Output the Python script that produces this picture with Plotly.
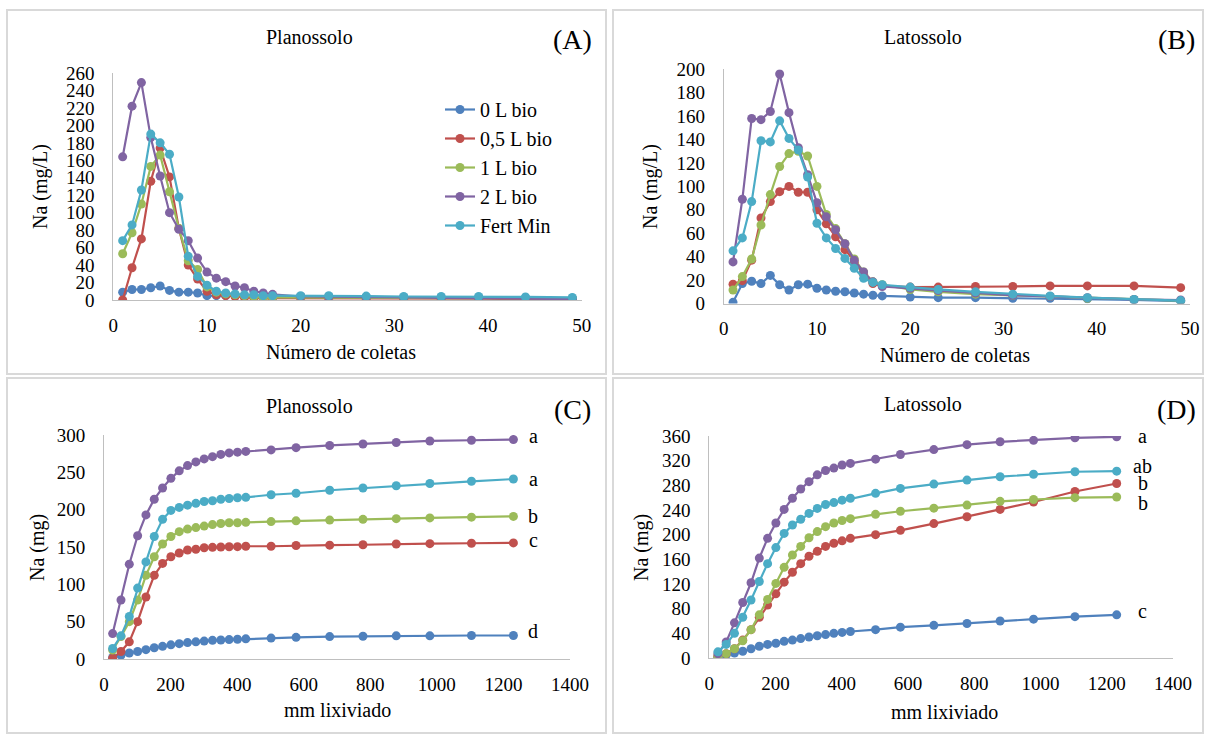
import plotly.graph_objects as go

# ---------------- data ----------------
coletas = [1, 2, 3, 4, 5, 6, 7, 8, 9, 10, 11, 12, 13, 14, 15, 16, 17, 20, 23, 27, 31, 35, 39, 44, 49]
mm_lixiviado = [26, 51, 76, 101, 126, 151, 176, 201, 226, 251, 276, 301, 326, 351, 376, 401, 426,
                502, 577, 678, 778, 878, 979, 1104, 1230]
series_names = ["0 L bio", "0,5 L bio", "1 L bio", "2 L bio", "Fert Min"]

# (A) Planossolo - Na (mg/L)
a_0bio = [9, 12, 12, 14, 16, 11, 9, 9, 8, 5, 5, 5, 4.5, 4.5, 4, 4, 4, 4, 4, 3.5, 3, 3, 3, 2.5, 2]
a_05bio = [0, 37, 70, 136, 174, 141, 82, 40, 24, 10, 6, 5, 4, 3, 2.5, 2, 2, 2, 2, 1.5, 1.5, 1.5, 1.5, 1, 1]
a_1bio = [53, 77, 110, 153, 166, 124, 82, 45, 35, 15, 9, 7, 6, 5, 4, 3, 3, 3, 3, 2.5, 2.5, 2, 2, 2, 2]
a_2bio = [164, 222, 249, 186, 142, 100, 81, 68, 48, 32, 25, 21, 16, 14, 10, 8, 6.5, 4, 3.5, 3, 3, 2.5, 2, 1.5, 1]
a_fert = [68, 86, 126, 190, 180, 167, 118, 50, 27, 17, 10, 8, 7, 6, 6, 5, 5, 5, 5, 4.5, 4, 4, 4, 3.5, 3]

# (B) Latossolo - Na (mg/L)
b_0bio = [1, 17, 19, 17, 24, 16, 11.5, 16, 16.5, 13, 11.5, 10.5, 10, 9, 8, 7, 6.5, 5.5, 5, 5, 4.5, 4.5, 4, 3, 2]
b_05bio = [16.5, 19.5, 37, 73, 87, 95.5, 100, 95, 95, 80, 68, 57, 46, 35, 25, 17, 15, 14, 14, 14.5, 14.5, 15, 15, 15, 13.5]
b_1bio = [11.5, 23, 38, 67, 93, 117, 128, 130, 126, 100, 76, 64, 51, 38, 27, 18.5, 16, 12, 10, 8, 7, 6, 4.5, 3.5, 2.5]
b_2bio = [35.5, 89, 158, 157, 164, 196, 163, 133, 110, 86, 74, 63, 51, 37, 27, 18.5, 14.5, 13, 11, 9, 7, 6, 5, 3.5, 3]
b_fert = [45, 56, 87, 139, 138, 156, 141, 131, 108, 68.5, 56, 47, 38.5, 30, 21.5, 18, 16, 14, 12, 10, 8, 6.5, 5, 3.5, 2.5]

# (C) Planossolo - Na (mg) acumulado
c_0bio = [2, 5, 8, 10, 12.5, 15, 17, 19, 20.5, 22, 23, 24, 25, 25.5, 26, 26.5, 27, 28, 29, 30, 30.5, 31, 31, 31.5, 31.5]
c_05bio = [1, 10, 23, 50, 83, 112, 128, 137, 142, 146, 147, 149, 149.5, 150, 150.4, 150.5, 151, 151, 152, 152.5, 153, 154, 154.5, 155, 155.5]
c_1bio = [12, 30, 50, 79, 112, 137, 154, 164, 170.5, 174, 176, 178, 180, 181.5, 182.5, 182.5, 183, 184, 185, 186, 187, 188, 189, 190, 191]
c_2bio = [34, 79, 127, 165, 193, 214, 229, 242, 252, 259, 264, 268, 271, 274, 276, 277, 278, 280, 283, 286, 288, 290, 292, 293, 294]
c_fert = [14, 31, 57, 95, 130, 164, 187, 199, 203, 206, 208.5, 211, 212, 214, 215, 216, 216.5, 220, 222, 226, 229, 232, 235, 238, 241]

# (D) Latossolo - Na (mg) acumulado
d_0bio = [1, 5, 8, 11, 15, 19, 22, 24, 27, 29, 31.5, 34, 36, 38, 40, 41.5, 43, 46, 50, 53, 56, 60, 63, 67, 70]
d_05bio = [3, 7, 15, 29, 46, 66, 86, 104, 123, 139, 153, 165, 173, 181, 186, 190, 194, 200, 207, 218, 229, 241, 253, 270, 283]
d_1bio = [3, 7, 15, 28, 46, 70, 95, 121, 147, 167, 181, 195, 205, 213, 219, 223, 226, 233, 238, 243, 248, 254, 257, 260, 261]
d_2bio = [7, 26, 57, 90, 122, 162, 194, 219, 241, 259, 274, 286, 297, 304, 308, 313, 315.5, 322.5, 330, 338, 346, 350.6, 353, 357, 358.7]
d_fert = [10, 22, 40, 66, 94, 124, 153, 179, 202, 215.6, 225, 234.5, 242.6, 249, 252, 256, 259, 267, 275, 282, 288.5, 294, 298, 302, 303]

c_letters = ["d", "c", "b", "a", "a"]
d_letters = ["c", "b", "b", "a", "ab"]

# ---------------- style ----------------
colors = ["#4F81BD", "#C0504D", "#9BBB59", "#8064A2", "#4BACC6"]
FONT = "Liberation Serif"
W, H = 1209, 735

fig = go.Figure()

panels = [
    (coletas, [a_0bio, a_05bio, a_1bio, a_2bio, a_fert], "x", "y", True),
    (coletas, [b_0bio, b_05bio, b_1bio, b_2bio, b_fert], "x2", "y2", False),
    (mm_lixiviado, [c_0bio, c_05bio, c_1bio, c_2bio, c_fert], "x3", "y3", False),
    (mm_lixiviado, [d_0bio, d_05bio, d_1bio, d_2bio, d_fert], "x4", "y4", False),
]
for xs, ser, xa, ya, show in panels:
    for i, ys in enumerate(ser):
        fig.add_trace(go.Scatter(
            x=xs, y=ys, mode="lines+markers", name=series_names[i],
            line=dict(color=colors[i], width=2.2),
            marker=dict(color=colors[i], size=9),
            xaxis=xa, yaxis=ya, showlegend=show))

def px(xp):
    return xp / W

def py(yp):
    return 1 - yp / H

axis_common = dict(showgrid=False, zeroline=False, showline=True, linecolor="#bfbfbf",
                   linewidth=1, ticks="", automargin=False,
                   tickfont=dict(family=FONT, size=19, color="black"))

fig.update_layout(
    width=W, height=H, autosize=False,
    margin=dict(l=0, r=0, t=0, b=0),
    paper_bgcolor="white", plot_bgcolor="white",
    font=dict(family=FONT, size=19, color="black"),
    xaxis=dict(domain=[px(113.3), px(581.7)], range=[0, 50], dtick=10, anchor="y",
               ticklabelstandoff=8, **axis_common),
    yaxis=dict(domain=[py(300), py(73)], range=[0, 260], dtick=20, anchor="x",
               ticklabelstandoff=14, **axis_common),
    xaxis2=dict(domain=[px(723.7), px(1190)], range=[0, 50], dtick=10, anchor="y2",
                ticklabelstandoff=8, **axis_common),
    yaxis2=dict(domain=[py(303.5), py(69.3)], range=[0, 200], dtick=20, anchor="x2",
                ticklabelstandoff=14, **axis_common),
    xaxis3=dict(domain=[px(104), px(570)], range=[0, 1400], dtick=200, anchor="y3",
                ticklabelstandoff=8, **axis_common),
    yaxis3=dict(domain=[py(659), py(435)], range=[0, 300], dtick=50, anchor="x3",
                ticklabelstandoff=14, **axis_common),
    xaxis4=dict(domain=[px(709.3), px(1173)], range=[0, 1400], dtick=200, anchor="y4",
                ticklabelstandoff=8, **axis_common),
    yaxis4=dict(domain=[py(658), py(436)], range=[0, 360], dtick=40, anchor="x4",
                ticklabelstandoff=14, **axis_common),
    legend=dict(x=px(440), y=py(90), xanchor="left", yanchor="top",
                font=dict(family=FONT, size=20, color="black"),
                bgcolor="rgba(0,0,0,0)", itemwidth=30),
)

# panel borders
for x0, x1, y0, y1 in [(7, 606, 10, 374), (613, 1203, 10, 374),
                       (7, 606, 378, 733), (613, 1203, 378, 733)]:
    fig.add_shape(type="rect", xref="paper", yref="paper",
                  x0=px(x0), x1=px(x1), y0=py(y1), y1=py(y0),
                  line=dict(color="#d9d9d9", width=2), fillcolor="rgba(0,0,0,0)", layer="below")

def ann(text, x, y, size=20, angle=0):
    fig.add_annotation(text=text, x=px(x), y=py(y), xref="paper", yref="paper",
                       showarrow=False, textangle=angle, xanchor="center", yanchor="middle",
                       font=dict(family=FONT, size=size, color="black"))

ann("Planossolo", 309, 37)
ann("(A)", 572, 40, 28)
ann("Latossolo", 923, 37)
ann("(B)", 1176, 40, 28)
ann("Planossolo", 309, 406)
ann("(C)", 572, 409, 28)
ann("Latossolo", 923, 404)
ann("(D)", 1176, 409, 28)

ann("Na (mg/L)", 40, 187, angle=-90)
ann("Na (mg/L)", 650, 187, angle=-90)
ann("Na (mg)", 37, 548, angle=-90)
ann("Na (mg)", 641, 548, angle=-90)

ann("Número de coletas", 341, 352)
ann("Número de coletas", 955, 355)
ann("mm lixiviado", 337, 710)
ann("mm lixiviado", 944, 712)

# significance letters
c_shift = [4, 3, 0, 3, 0]
d_shift = [4, 0, -6, 1, 5]
c_series = [c_0bio, c_05bio, c_1bio, c_2bio, c_fert]
d_series = [d_0bio, d_05bio, d_1bio, d_2bio, d_fert]
for i in range(5):
    fig.add_annotation(text=c_letters[i], x=mm_lixiviado[-1], y=c_series[i][-1],
                       xref="x3", yref="y3", showarrow=False, xshift=20, yshift=c_shift[i],
                       font=dict(family=FONT, size=20, color="black"))
    fig.add_annotation(text=d_letters[i], x=mm_lixiviado[-1], y=d_series[i][-1],
                       xref="x4", yref="y4", showarrow=False, xshift=26, yshift=d_shift[i],
                       font=dict(family=FONT, size=20, color="black"))

fig.write_html("out.html")
